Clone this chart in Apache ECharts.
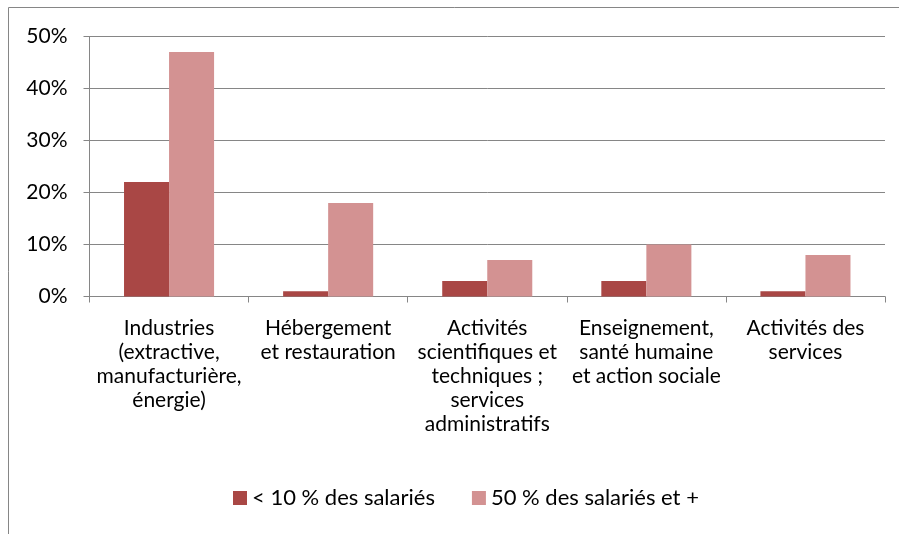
<!DOCTYPE html>
<html>
<head>
<meta charset="utf-8">
<script src="https://cdn.jsdelivr.net/npm/echarts@6/dist/echarts.min.js"></script>
<style>
  html, body { margin: 0; padding: 0; background: #fff; }
  #chart { width: 899px; height: 534px; }
</style>
</head>
<body>
<div id="chart"></div>
<script>
// Secteurs d'activité
const categories = [
  'Industries\n(extractive,\nmanufacturière,\nénergie)',
  'Hébergement\net restauration',
  'Activités\nscientifiques et\ntechniques ;\nservices\nadministratifs',
  'Enseignement,\nsanté humaine\net action sociale',
  'Activités des\nservices'
];
// Part des établissements (%)
const lowShare = [22, 1, 3, 3, 1];
const highShare = [47, 18, 7, 10, 8];
const seriesNames = ['< 10 % des salariés', '50 % des salariés et +'];
const yTicks = [0, 10, 20, 30, 40, 50];

const FONT = 'Lato';
const FONT_SIZE = 21;
const AXIS_GREY = '#868686';

const chart = echarts.init(document.getElementById('chart'), null, { renderer: 'canvas' });

chart.setOption({
  animation: false,
  textStyle: { fontFamily: FONT },
  graphic: [{
    type: 'rect',
    shape: { x: 8.5, y: 7.5, width: 1200, height: 1200 },
    style: { fill: 'none', stroke: AXIS_GREY, lineWidth: 1 },
    silent: true
  }],
  grid: { left: 89.5, right: 14, top: 36.5, bottom: 237.5, containLabel: false },
  legend: {
    bottom: 20,
    left: 228,
    itemWidth: 14,
    itemHeight: 14,
    itemGap: 37,
    icon: 'rect',
    textStyle: { fontFamily: FONT, fontSize: 22, color: '#000' },
    data: seriesNames
  },
  xAxis: {
    type: 'category',
    data: categories,
    axisLine: { lineStyle: { color: AXIS_GREY, width: 1 } },
    axisTick: { show: true, length: 6, lineStyle: { color: AXIS_GREY } },
    axisLabel: {
      interval: 0,
      margin: 20,
      fontFamily: FONT,
      fontSize: FONT_SIZE,
      lineHeight: 24,
      color: '#000',
      align: 'center'
    }
  },
  yAxis: {
    type: 'value',
    min: yTicks[0],
    max: yTicks[yTicks.length - 1],
    interval: 10,
    axisLine: { show: true, lineStyle: { color: AXIS_GREY, width: 1 } },
    axisTick: { show: true, length: 6, lineStyle: { color: AXIS_GREY } },
    splitLine: { show: true, lineStyle: { color: AXIS_GREY, width: 1 } },
    axisLabel: {
      margin: 22,
      fontFamily: FONT,
      fontSize: FONT_SIZE,
      color: '#000',
      formatter: v => v + '%'
    }
  },
  series: [
    {
      name: seriesNames[0],
      type: 'bar',
      data: lowShare,
      barGap: '0%',
      barCategoryGap: '43.4%',
      itemStyle: { color: '#A94745' }
    },
    {
      name: seriesNames[1],
      type: 'bar',
      data: highShare,
      barGap: '0%',
      barCategoryGap: '43.4%',
      itemStyle: { color: '#D39292' }
    }
  ]
});
</script>
</body>
</html>
